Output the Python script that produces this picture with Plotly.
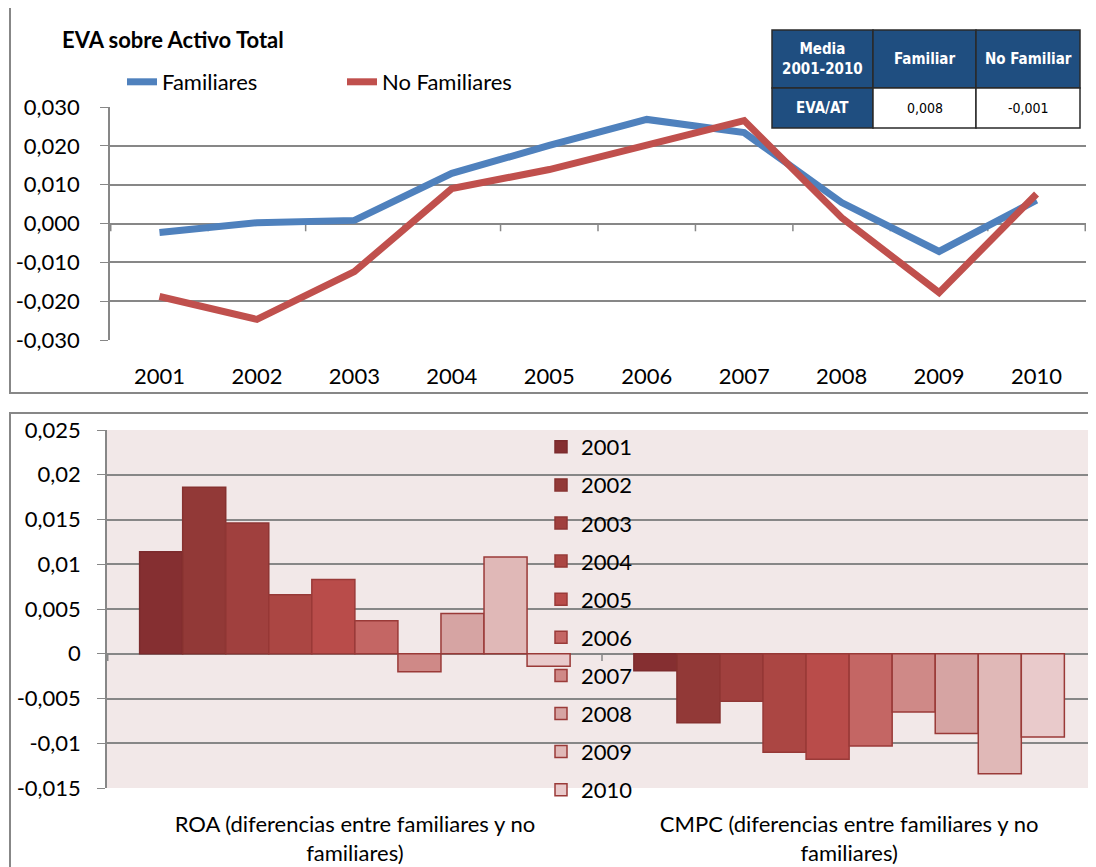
import plotly.graph_objects as go

# ---------------- data ----------------
years = ["2001", "2002", "2003", "2004", "2005", "2006", "2007", "2008", "2009", "2010"]
familiares = [-0.0023, 0.0002, 0.0008, 0.0129, 0.0201, 0.0268, 0.0234, 0.0054, -0.0072, 0.0060]
no_familiares = [-0.0188, -0.0247, -0.0124, 0.0090, 0.0139, 0.0201, 0.0265, 0.0015, -0.0178, 0.0076]

top_ticks = [0.03, 0.02, 0.01, 0.0, -0.01, -0.02, -0.03]
top_ticklabels = ["0,030", "0,020", "0,010", "0,000", "-0,010", "-0,020", "-0,030"]

bar_categories = ["ROA (diferencias entre familiares y no<br>familiares)",
                  "CMPC (diferencias entre familiares y no<br>familiares)"]
roa = [0.0114, 0.0186, 0.0146, 0.0066, 0.0083, 0.0037, -0.0020, 0.0045, 0.0108, -0.0014]
cmpc = [-0.0019, -0.0077, -0.0053, -0.0110, -0.0118, -0.0103, -0.0065, -0.0089, -0.0134, -0.0093]

bottom_ticks = [0.025, 0.02, 0.015, 0.01, 0.005, 0.0, -0.005, -0.01, -0.015]
bottom_ticklabels = ["0,025", "0,02", "0,015", "0,01", "0,005", "0", "-0,005", "-0,01", "-0,015"]

table_header = ["Media<br>2001-2010", "Familiar", "No Familiar"]
table_row = ["EVA/AT", "0,008", "-0,001"]

# ---------------- styles ----------------
W, H = 1096, 867
OFF = 8  # page body margin
FONT = "Lato"
FS = 22
GRID = "#878787"
PINK = "#f2e8e8"
bar_colors = ["#852f31", "#923937", "#a0403e", "#ab4643", "#b94c4a",
              "#c46664", "#cf8987", "#d6a4a3", "#e0b8b7", "#e9cacb"]
bar_lines = ["#7c2b2d", "#86312f", "#8f3634", "#963836", "#9a3a38",
             "#9a3a38", "#9a3a38", "#9a3a38", "#9a3a38", "#9a3a38"]
TBLUE = "#1f4e80"
TFONT = "Liberation Sans Narrow, DejaVu Sans Condensed, sans-serif"

def px(x):
    return (x - OFF) / W

def py(y):
    return 1 - (y - OFF) / H

fig = go.Figure()

# top lines
fig.add_trace(go.Scatter(x=years, y=familiares, name="Familiares", mode="lines",
                         line=dict(color="#4F81BD", width=7), xaxis="x", yaxis="y",
                         legend="legend"))
fig.add_trace(go.Scatter(x=years, y=no_familiares, name="No Familiares", mode="lines",
                         line=dict(color="#C0504D", width=7), xaxis="x", yaxis="y",
                         legend="legend"))

# bottom bars
for i, yr in enumerate(years):
    fig.add_trace(go.Bar(x=bar_categories, y=[roa[i], cmpc[i]], name=yr,
                         marker=dict(color=bar_colors[i], line=dict(color=bar_lines[i], width=1.5)),
                         xaxis="x2", yaxis="y2", legend="legend2", legendgroup=yr))

shapes = []
annotations = []
# pink plot-area background for the bar chart
shapes.append(dict(type="rect", xref="x2 domain", yref="y2 domain", x0=0, x1=1, y0=0, y1=1,
                   fillcolor=PINK, line=dict(width=0), layer="below"))
# tick marks on zero line (top)
for i in range(len(years) + 1):
    shapes.append(dict(type="line", xref="x", yref="y", x0=i - 0.5, x1=i - 0.5,
                       y0=0, y1=-0.002, line=dict(color=GRID, width=1.5), layer="below"))
# tick marks on zero line (bottom)
for i in range(len(bar_categories) + 1):
    shapes.append(dict(type="line", xref="x2", yref="y2", x0=i - 0.5, x1=i - 0.5,
                       y0=0, y1=-0.0008, line=dict(color=GRID, width=1.5), layer="below"))
# chart frames
shapes.append(dict(type="rect", xref="paper", yref="paper", x0=px(10), x1=1.02,
                   y0=py(393), y1=1.02, line=dict(color=GRID, width=2), layer="below"))
shapes.append(dict(type="rect", xref="paper", yref="paper", x0=px(10), x1=1.02,
                   y0=-0.02, y1=py(413), line=dict(color=GRID, width=2), layer="below"))

# summary table (drawn as cells)
col_edges = [772, 873, 976, 1080]
row_edges = [30, 88, 128]
rows = [table_header, table_row]
for r, row in enumerate(rows):
    for c, txt in enumerate(row):
        blue = (r == 0) or (c == 0)
        shapes.append(dict(type="rect", xref="paper", yref="paper",
                           x0=px(col_edges[c]), x1=px(col_edges[c + 1]),
                           y0=py(row_edges[r + 1]), y1=py(row_edges[r]),
                           fillcolor=TBLUE if blue else "white",
                           line=dict(color="#2a2a2a", width=1.5), layer="above"))
        annotations.append(dict(
            text=f"<b>{txt}</b>" if blue else txt, xref="paper", yref="paper",
            x=px((col_edges[c] + col_edges[c + 1]) / 2),
            y=py((row_edges[r] + row_edges[r + 1]) / 2),
            xanchor="center", yanchor="middle", showarrow=False,
            font=dict(family=TFONT, size=15 if blue else 14,
                      color="white" if blue else "black")))

annotations.append(dict(text="<b>EVA sobre Activo Total</b>", xref="paper", yref="paper",
                        x=px(60), y=py(40), xanchor="left", yanchor="middle",
                        showarrow=False, font=dict(size=FS, family=FONT)))

fig.update_layout(
    width=W, height=H, margin=dict(l=0, r=0, t=0, b=0, autoexpand=False),
    paper_bgcolor="white", plot_bgcolor="white",
    font=dict(family=FONT, size=FS, color="black"),
    barmode="group", bargap=0.129, bargroupgap=0,
    shapes=shapes, annotations=annotations,
    xaxis=dict(domain=[px(110), px(1086)], anchor="y", type="category", automargin=False,
               showgrid=False, showline=False, ticks="", ticklabelstandoff=21),
    yaxis=dict(domain=[py(340), py(107)], anchor="x", range=[-0.03, 0.03], automargin=False,
               tickvals=top_ticks, ticktext=top_ticklabels,
               showgrid=True, gridcolor=GRID, gridwidth=1.5,
               zeroline=True, zerolinecolor=GRID, zerolinewidth=1.5,
               showline=True, linecolor=GRID, linewidth=1.5,
               ticks="outside", ticklen=8, tickcolor=GRID, ticklabelstandoff=16),
    xaxis2=dict(domain=[px(107), px(1097)], anchor="y2", type="category", automargin=False,
                showgrid=False, showline=False, ticks="", ticklabelstandoff=21),
    yaxis2=dict(domain=[py(788), py(430)], anchor="x2", range=[-0.015, 0.025], automargin=False,
                tickvals=bottom_ticks, ticktext=bottom_ticklabels,
                showgrid=True, gridcolor=GRID, gridwidth=1.5,
                zeroline=True, zerolinecolor=GRID, zerolinewidth=1.5,
                showline=True, linecolor=GRID, linewidth=1.5,
                ticks="outside", ticklen=8, tickcolor=GRID, ticklabelstandoff=12),
    legend=dict(orientation="h", x=px(122), y=py(61), xanchor="left", yanchor="top",
                bgcolor="rgba(0,0,0,0)", font=dict(size=FS), entrywidth=175,
                itemwidth=30),
    legend2=dict(orientation="v", x=px(541), y=py(426), xanchor="left", yanchor="top",
                 bgcolor="rgba(0,0,0,0)", font=dict(size=FS), traceorder="grouped",
                 tracegroupgap=6.5),
)

fig.write_html("out.html")
